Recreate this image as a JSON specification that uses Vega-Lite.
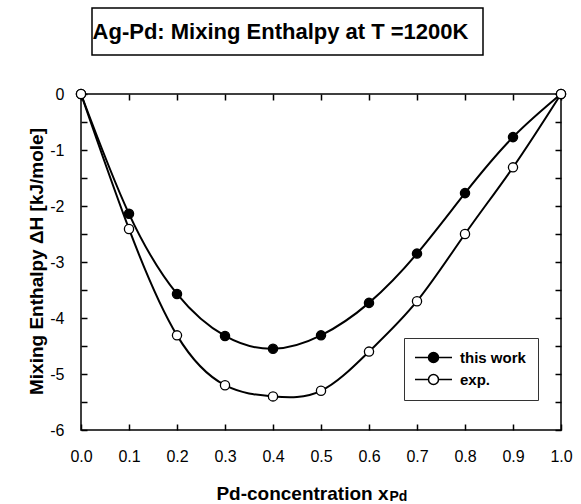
{
  "$schema": "https://vega.github.io/schema/vega-lite/v6.json",
  "padding": {"left": 26, "top": 7, "right": 5, "bottom": 0},
  "background": "white",
  "config": {"font": "Liberation Sans", "view": {"stroke": "black", "strokeWidth": 1.5}},
  "bounds": "flush",
  "spacing": 86,
  "vconcat": [
    {
      "bounds": "flush",
      "spacing": 0,
      "hconcat": [
        {
          "width": 11,
          "height": 47,
          "view": {"stroke": null},
          "data": {"values": [{}]},
          "mark": {"type": "text", "text": " ", "fontSize": 1}
        },
        {
          "width": 391,
          "height": 47,
          "view": {"stroke": "black", "strokeWidth": 1.5},
          "data": {"values": [{}]},
          "mark": {"type": "text", "text": "Ag-Pd: Mixing Enthalpy at T =1200K", "font": "Liberation Sans", "fontSize": 22, "fontWeight": "bold", "dx": -7, "align": "center", "baseline": "middle", "color": "black"}
        }
      ]
    },
    {
      "width": 480,
      "height": 336,
      "data": {"values": [
        {"x": 0.0, "dH": 0, "series": "this work"},
        {"x": 0.1, "dH": -2.14, "series": "this work"},
        {"x": 0.2, "dH": -3.57, "series": "this work"},
        {"x": 0.3, "dH": -4.32, "series": "this work"},
        {"x": 0.4, "dH": -4.55, "series": "this work"},
        {"x": 0.5, "dH": -4.31, "series": "this work"},
        {"x": 0.6, "dH": -3.73, "series": "this work"},
        {"x": 0.7, "dH": -2.85, "series": "this work"},
        {"x": 0.8, "dH": -1.77, "series": "this work"},
        {"x": 0.9, "dH": -0.77, "series": "this work"},
        {"x": 1.0, "dH": 0, "series": "this work"},
        {"x": 0.0, "dH": 0, "series": "exp."},
        {"x": 0.1, "dH": -2.41, "series": "exp."},
        {"x": 0.2, "dH": -4.31, "series": "exp."},
        {"x": 0.3, "dH": -5.2, "series": "exp."},
        {"x": 0.4, "dH": -5.4, "series": "exp."},
        {"x": 0.5, "dH": -5.3, "series": "exp."},
        {"x": 0.6, "dH": -4.6, "series": "exp."},
        {"x": 0.7, "dH": -3.7, "series": "exp."},
        {"x": 0.8, "dH": -2.5, "series": "exp."},
        {"x": 0.9, "dH": -1.31, "series": "exp."},
        {"x": 1.0, "dH": 0, "series": "exp."}
      ]},
      "layer": [
        {
          "mark": {"type": "line", "interpolate": "natural", "color": "black", "strokeWidth": 2},
          "encoding": {
            "x": {"field": "x", "type": "quantitative", "scale": {"domain": [0, 1], "nice": false, "zero": false},
              "axis": {"orient": "bottom", "values": [0, 0.1, 0.2, 0.3, 0.4, 0.5, 0.6, 0.7, 0.8, 0.9, 1.0], "format": ".1f", "grid": false, "domain": false,
                "tickSize": -6, "tickWidth": 1.5, "tickColor": "black", "labelFontSize": 16, "labelColor": "black", "labelPadding": 24.5, "labelFlush": false,
                "title": "Pd-concentration x", "titleFontSize": 19, "titleFontWeight": "bold", "titleColor": "black",
                "titleX": 307, "titleY": 69, "titleAlign": "right", "titleBaseline": "alphabetic"}},
            "y": {"field": "dH", "type": "quantitative", "scale": {"domain": [-6, 0], "nice": false, "zero": false},
              "axis": {"orient": "left", "values": [-6, -5.5, -5, -4.5, -4, -3.5, -3, -2.5, -2, -1.5, -1, -0.5, 0], "labelExpr": "datum.value == round(datum.value) ? toString(datum.value) : ''",
                "grid": false, "domain": false, "tickSize": -6, "tickWidth": 1.5, "tickColor": "black", "labelFontSize": 16, "labelColor": "black", "labelPadding": 23,
                "title": "Mixing Enthalpy ΔH [kJ/mole]", "titleFontSize": 19, "titleFontWeight": "bold", "titleColor": "black",
                "titleX": -39, "titleY": 167, "titleAngle": -90, "titleAlign": "center", "titleBaseline": "alphabetic"}},
            "detail": {"field": "series"}
          }
        },
        {
          "mark": {"type": "point", "filled": true, "size": 85, "stroke": "black", "strokeWidth": 1.3, "opacity": 1},
          "encoding": {
            "x": {"field": "x", "type": "quantitative", "scale": {"domain": [0, 1], "nice": false, "zero": false},
              "axis": {"orient": "top", "values": [0, 0.1, 0.2, 0.3, 0.4, 0.5, 0.6, 0.7, 0.8, 0.9, 1.0], "labels": false, "grid": false, "domain": false,
                "tickSize": -6, "tickWidth": 1.5, "tickColor": "black",
                "title": "Pd", "titleFontSize": 14, "titleFontWeight": "bold", "titleColor": "black",
                "titleX": 308, "titleY": 406, "titleAlign": "left", "titleBaseline": "alphabetic"}},
            "y": {"field": "dH", "type": "quantitative", "scale": {"domain": [-6, 0], "nice": false, "zero": false},
              "axis": {"orient": "right", "values": [-6, -5.5, -5, -4.5, -4, -3.5, -3, -2.5, -2, -1.5, -1, -0.5, 0], "labels": false, "grid": false, "domain": false,
                "tickSize": -6, "tickWidth": 1.5, "tickColor": "black", "title": null}},
            "fill": {"field": "series", "type": "nominal", "scale": {"domain": ["this work", "exp."], "range": ["black", "white"]},
              "legend": {"title": null, "orient": "none", "legendX": 323, "legendY": 330, "strokeColor": "#333", "fillColor": "white",
                "padding": 12, "symbolType": "M-3.7,0H-1M1,0H3.7M-1,0A1,1,0,1,1,1,0A1,1,0,1,1,-1,0Z", "symbolSize": 100,
                "symbolStrokeColor": "black", "symbolStrokeWidth": 1.5, "symbolOffset": 10, "labelOffset": 19,
                "labelFontSize": 15, "labelFontWeight": "bold", "labelColor": "black", "labelFont": "Liberation Sans", "rowPadding": 5}}
          }
        }
      ],
      "resolve": {"axis": {"x": "independent", "y": "independent"}}
    }
  ]
}
